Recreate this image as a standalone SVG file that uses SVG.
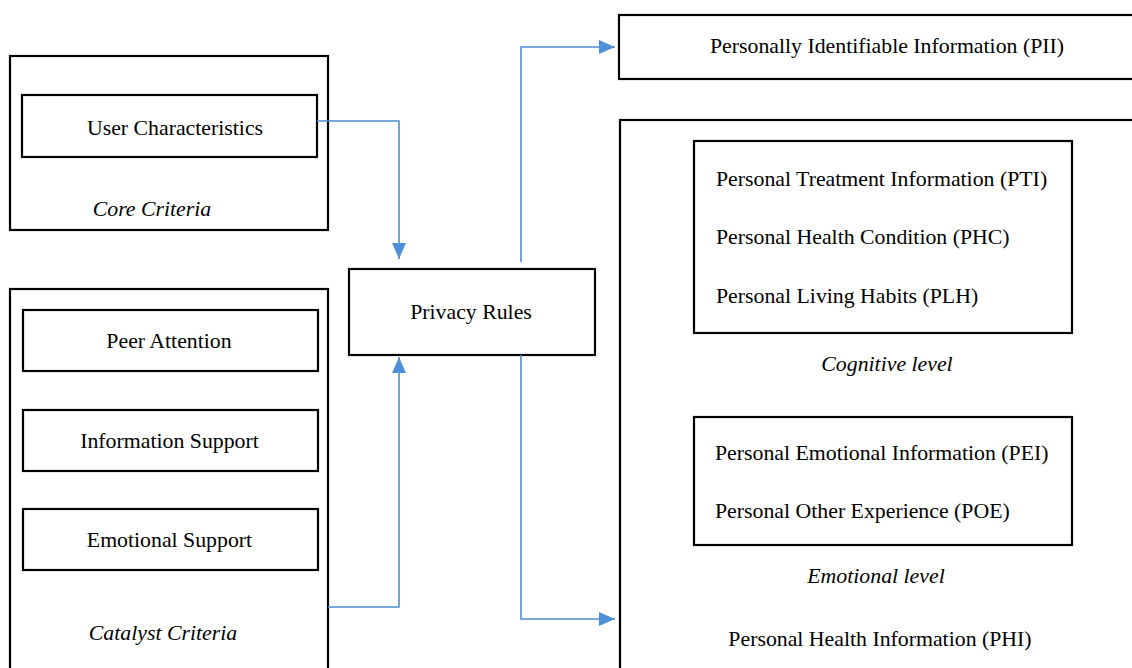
<svg xmlns="http://www.w3.org/2000/svg" width="1132" height="668" viewBox="0 0 1132 668">
<style>
.box{fill:#fff;stroke:#000;stroke-width:2.2}
.t{font-family:"Liberation Serif","Times New Roman",serif;font-size:21.8px;fill:#000}
.i{font-style:italic}
.c{text-anchor:middle}
.conn{fill:none;stroke:#4f8fd6;stroke-width:1.6}
</style>
<defs>
<marker id="ah" markerUnits="userSpaceOnUse" markerWidth="16" markerHeight="14" refX="16" refY="7" orient="auto">
<path d="M0,0 L16,7 L0,14 Z" fill="#4f8fd6"/>
</marker>
</defs>
<rect width="1132" height="668" fill="#fff"/>
<g id="core-criteria">
<rect class="box" x="10" y="56" width="318" height="174"/>
<text class="t i c" x="152" y="216">Core Criteria</text>
</g>
<g id="user-characteristics">
<rect class="box" x="22" y="95" width="295" height="62"/>
<text class="t c" x="175" y="135">User Characteristics</text>
</g>
<g id="catalyst-criteria">
<rect class="box" x="10" y="289" width="318" height="460"/>
<text class="t i c" x="163" y="640">Catalyst Criteria</text>
</g>
<g id="peer-attention">
<rect class="box" x="23" y="310" width="295" height="61"/>
<text class="t c" x="169" y="348">Peer Attention</text>
</g>
<g id="information-support">
<rect class="box" x="23" y="410" width="295" height="61"/>
<text class="t c" x="169.5" y="448">Information Support</text>
</g>
<g id="emotional-support">
<rect class="box" x="23" y="509" width="295" height="61"/>
<text class="t c" x="169.5" y="547">Emotional Support</text>
</g>
<g id="privacy-rules">
<rect class="box" x="349" y="269" width="246" height="86"/>
<text class="t c" x="471" y="319">Privacy Rules</text>
</g>
<g id="pii">
<rect class="box" x="619" y="15" width="600" height="64"/>
<text class="t c" x="887" y="53">Personally Identifiable Information (PII)</text>
</g>
<g id="phi">
<rect class="box" x="620" y="120" width="600" height="600"/>
<text class="t c" x="880" y="646">Personal Health Information (PHI)</text>
</g>
<g id="cognitive-level">
<rect class="box" x="694" y="141" width="378" height="192"/>
<text class="t" x="716" y="186">Personal Treatment Information (PTI)</text>
<text class="t" x="716" y="244">Personal Health Condition (PHC)</text>
<text class="t" x="716" y="303">Personal Living Habits (PLH)</text>
<text class="t i c" x="887" y="371">Cognitive level</text>
</g>
<g id="emotional-level">
<rect class="box" x="694" y="417" width="378" height="128"/>
<text class="t" x="715" y="460">Personal Emotional Information (PEI)</text>
<text class="t" x="715" y="518">Personal Other Experience (POE)</text>
<text class="t i c" x="876" y="583">Emotional level</text>
</g>
<g id="connectors">
<path class="conn" d="M317,121 H399 V259" marker-end="url(#ah)"/>
<path class="conn" d="M328,607 H399 V357" marker-end="url(#ah)"/>
<path class="conn" d="M521,262 V47 H615" marker-end="url(#ah)"/>
<path class="conn" d="M521,355 V619 H615" marker-end="url(#ah)"/>
</g>
</svg>
